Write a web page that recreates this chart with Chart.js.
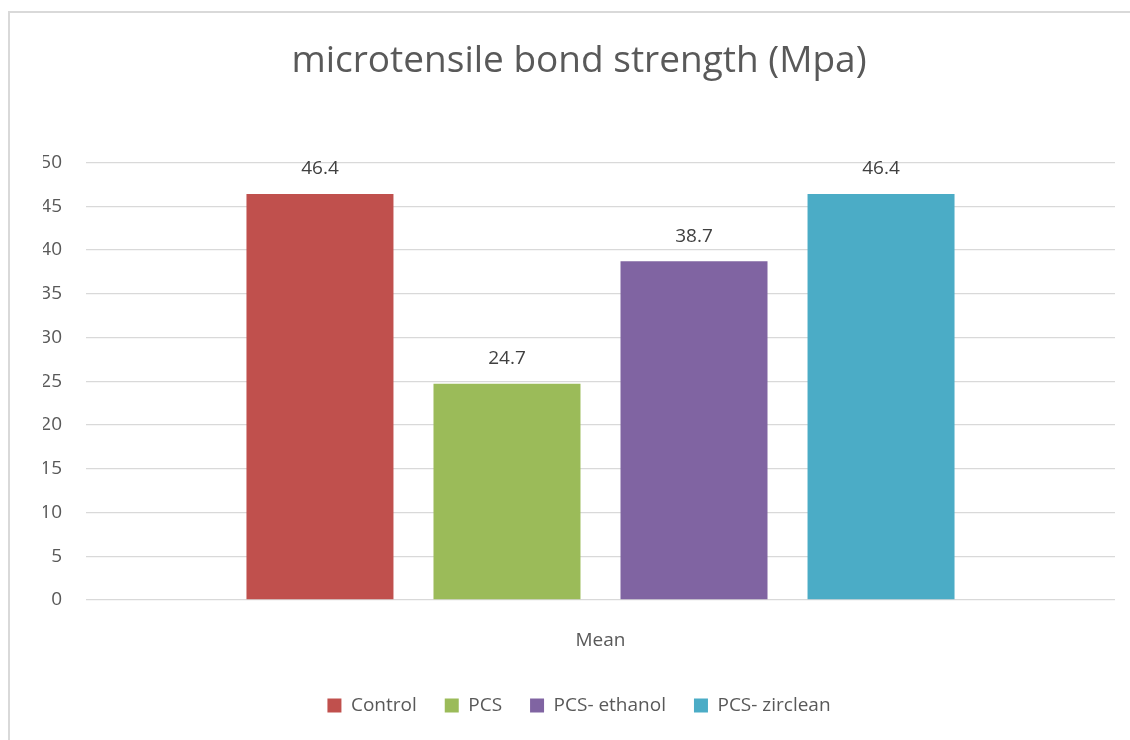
<!DOCTYPE html>
<html>
<head>
<meta charset="utf-8">
<title>microtensile bond strength (Mpa)</title>
<script src="https://cdn.jsdelivr.net/npm/chart.js@4/dist/chart.umd.min.js"></script>
<style>
  html, body { margin: 0; padding: 0; background: #ffffff; }
  #frame {
    position: absolute; left: 8px; top: 11px; width: 1200px; height: 800px;
    border-left: 2px solid #d9d9d9; border-top: 2px solid #d9d9d9;
  }
  #wrap { position: absolute; left: 0; top: 0; width: 1130px; height: 740px; }
</style>
</head>
<body>
<div id="frame"></div>
<div id="wrap"><canvas id="chart" width="1130" height="740"></canvas></div>
<script>
// Data
const categories = ['Mean'];
const seriesNames = ['Control', 'PCS', 'PCS- ethanol', 'PCS- zirclean'];
const controlValues = [46.4];
const pcsValues = [24.7];
const pcsEthanolValues = [38.7];
const pcsZircleanValues = [46.4];
const seriesColors = ['#C0504D', '#9BBB59', '#8064A2', '#4BACC6'];
const yMin = 0, yMax = 50, yStep = 5;

const FONT = "'Open Sans', 'DejaVu Sans', sans-serif";
const TEXT = '#595959';
const PAD_LEFT = 43;   // outer left padding; y axis fills the rest up to x = 86

// Value labels above each bar
const valueLabels = {
  id: 'valueLabels',
  afterDatasetsDraw(chart) {
    const ctx = chart.ctx;
    ctx.save();
    ctx.font = '19px ' + FONT;
    ctx.fillStyle = '#404040';
    ctx.textAlign = 'center';
    ctx.textBaseline = 'middle';
    chart.data.datasets.forEach((ds, i) => {
      const meta = chart.getDatasetMeta(i);
      meta.data.forEach((bar, j) => {
        ctx.fillText(String(ds.data[j]), bar.x, bar.y - 25);
      });
    });
    ctx.restore();
  }
};

const allSeries = [controlValues, pcsValues, pcsEthanolValues, pcsZircleanValues];

new Chart(document.getElementById('chart'), {
  type: 'bar',
  data: {
    labels: categories,
    datasets: allSeries.map((vals, i) => ({
      label: seriesNames[i],
      data: vals,
      backgroundColor: seriesColors[i],
      borderWidth: 0,
      categoryPercentage: 0.727,
      barPercentage: 0.786
    }))
  },
  options: {
    responsive: false,
    animation: false,
    devicePixelRatio: 1,
    layout: { padding: { left: PAD_LEFT, right: 15, top: 0, bottom: 15 } },
    plugins: {
      title: {
        display: true,
        text: 'microtensile bond strength (Mpa)',
        color: TEXT,
        font: { family: FONT, size: 37, weight: 'normal' },
        padding: { top: 39, bottom: 79 }
      },
      legend: {
        display: true,
        position: 'bottom',
        labels: {
          color: TEXT,
          font: { family: FONT, size: 19 },
          boxWidth: 14,
          boxHeight: 14,
          padding: 28
        }
      },
      tooltip: { enabled: false }
    },
    scales: {
      x: {
        grid: { display: false },
        border: { display: false },
        ticks: { color: TEXT, font: { family: FONT, size: 19 }, padding: 21 },
        afterFit(scale) { scale.height = 68; }
      },
      y: {
        min: yMin,
        max: yMax,
        ticks: { stepSize: yStep, color: TEXT, font: { family: FONT, size: 19 }, padding: 24 },
        grid: { color: '#d9d9d9', lineWidth: 1.3, drawTicks: false },
        border: { display: false },
        afterFit(scale) { scale.width = 86 - PAD_LEFT; }
      }
    }
  },
  plugins: [valueLabels]
});
</script>
</body>
</html>
